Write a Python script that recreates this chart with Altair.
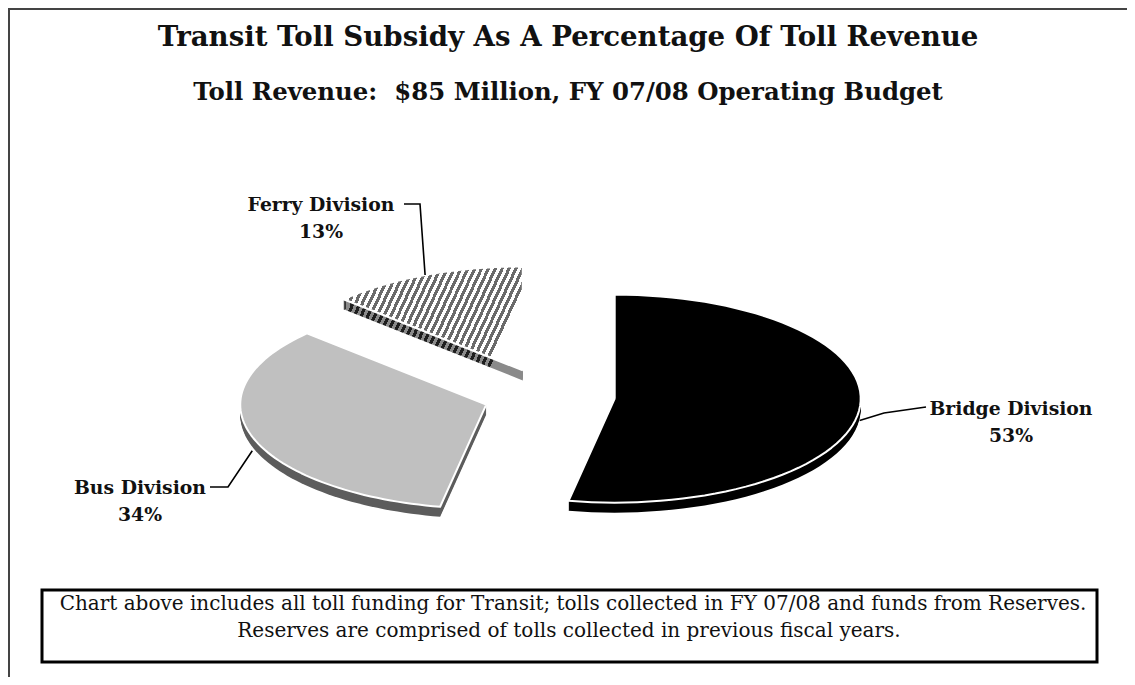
import altair as alt
import pandas as pd

# ---------------- data ----------------
categories = ["Bridge Division", "Bus Division", "Ferry Division"]
values = [53, 34, 13]

title_text = "Transit Toll Subsidy As A Percentage Of Toll Revenue"
subtitle_text = "Toll Revenue:\u00a0 $85 Million, FY 07/08 Operating Budget"
note_lines = [
    "Chart above includes all toll funding for Transit; tolls collected in FY 07/08 and funds from Reserves.",
    "Reserves are comprised of tolls collected in previous fiscal years.",
]

# ---------------- layout (page pixel units) ----------------
W, H = 1119, 669
OFF = 8
CX, CY = 549, 396          # pie centre
RA, RB = 246, 104          # ellipse radii (tilted pie)
EXPLODE = 66
DEPTH = 10
N = 72
FONT = "DejaVu Serif"

label_x = [1011, 140, 321]
label_y = [409, 488, 205]
lead_dy = [12, 14, 0]
elbow_x = [884, 228, 420]
elbow_y = [413, 487, 204]
end_x = [926, 210, 404]
end_y = [407, 487, 204]


def stripes(c1, c2, n=28, duty=0.5, gy=0.27):
    stops = []
    for k in range(n):
        s, m, e = k / n, (k + duty) / n, (k + 1) / n
        stops += [
            alt.GradientStop(offset=s, color=c1),
            alt.GradientStop(offset=m, color=c1),
            alt.GradientStop(offset=m, color=c2),
            alt.GradientStop(offset=e, color=c2),
        ]
    return alt.LinearGradient(gradient="linear", stops=stops, x1=0, y1=0, x2=1, y2=gy)


top_fill = {
    "Bridge Division": "#000000",
    "Bus Division": "#c0c0c0",
    "Ferry Division": stripes("#6a6a6a", "#ffffff"),
}
side_fill = {
    "Bridge Division": "#000000",
    "Bus Division": "#5c5c5c",
    "Ferry Division": stripes("#1e1e1e", "#8a8a8a"),
}

df = pd.DataFrame({
    "category": categories,
    "value": values,
    "lx": label_x,
    "ly": label_y,
    "sdy": lead_dy,
    "ex": elbow_x,
    "ey": elbow_y,
    "tx": end_x,
    "ty": end_y,
})

xs = alt.Scale(domain=[OFF, OFF + W], nice=False, zero=False)
ys = alt.Scale(domain=[OFF, OFF + H], nice=False, zero=False, reverse=True)

base = alt.Chart(df)

geom = (
    base.transform_window(cum="sum(value)", frame=[None, 0])
    .transform_joinaggregate(total="sum(value)")
    .transform_calculate(a0="2*PI*(datum.cum-datum.value)/datum.total")
    .transform_calculate(a1="2*PI*datum.cum/datum.total")
    .transform_calculate(am="(datum.a0+datum.a1)/2")
    .transform_calculate(ccx=f"{CX}+{EXPLODE}*sin(datum.am)")
    .transform_calculate(ccy=f"{CY}-{EXPLODE * RB / RA}*cos(datum.am)")
)

pts = (
    geom.transform_calculate(idx=f"sequence(0,{N + 2})")
    .transform_flatten(["idx"])
    .transform_calculate(isc=f"datum.idx==0 || datum.idx=={N + 1}")
    .transform_calculate(t=f"datum.a0+(datum.a1-datum.a0)*(datum.idx-1)/{N - 1}")
    .transform_calculate(px=f"datum.isc ? datum.ccx : datum.ccx+{RA}*sin(datum.t)")
    .transform_calculate(py=f"datum.isc ? datum.ccy : datum.ccy-{RB}*cos(datum.t)")
)

side = (
    pts.transform_calculate(dep=f"sequence(1,{DEPTH + 1})")
    .transform_flatten(["dep"])
    .transform_calculate(pyd="datum.py+datum.dep")
)

layers = []

# border (top and left edges)
one = pd.DataFrame({"k": [0]})
layers.append(alt.Chart(one).mark_rule(color="#444444", strokeWidth=2).encode(
    x=alt.value(0), x2=alt.value(W), y=alt.value(1)))
layers.append(alt.Chart(one).mark_rule(color="#444444", strokeWidth=2).encode(
    x=alt.value(1), y=alt.value(0), y2=alt.value(H)))

# 3D sides
for cat in categories:
    f = side_fill[cat]
    layers.append(
        side.transform_filter(alt.datum.category == cat)
        .mark_line(fill=f, strokeOpacity=0, strokeWidth=0)
        .encode(
            x=alt.X("px:Q", scale=xs, axis=None),
            y=alt.Y("pyd:Q", scale=ys, axis=None),
            order=alt.Order("idx:Q"),
            detail="dep:N",
        )
    )

# top faces
for cat in categories:
    layers.append(
        pts.transform_filter(alt.datum.category == cat)
        .mark_line(fill=top_fill[cat], stroke="white", strokeWidth=2, strokeJoin="round")
        .encode(
            x=alt.X("px:Q", scale=xs, axis=None),
            y=alt.Y("py:Q", scale=ys, axis=None),
            order=alt.Order("idx:Q"),
        )
    )

# leader lines
leaders = (
    geom.transform_calculate(k="sequence(0,3)")
    .transform_flatten(["k"])
    .transform_calculate(
        lxp=f"datum.k==0 ? datum.ccx+{RA}*sin(datum.am) : (datum.k==1 ? datum.ex : datum.tx)")
    .transform_calculate(
        lyp=f"datum.k==0 ? datum.ccy-{RB}*cos(datum.am)+datum.sdy : (datum.k==1 ? datum.ey : datum.ty)")
    .mark_line(color="black", strokeWidth=1.6)
    .encode(
        x=alt.X("lxp:Q", scale=xs, axis=None),
        y=alt.Y("lyp:Q", scale=ys, axis=None),
        order=alt.Order("k:Q"),
        detail="category:N",
    )
)
layers.append(leaders)

# slice labels
labels = (
    base.transform_calculate(lab="datum.category + '\\n' + datum.value + '%'")
    .mark_text(font=FONT, fontSize=18.8, fontWeight="bold", color="#111111",
               lineBreak="\n", lineHeight=27, align="center", baseline="middle")
    .encode(
        x=alt.X("lx:Q", scale=xs, axis=None),
        y=alt.Y("ly:Q", scale=ys, axis=None),
        text="lab:N",
    )
)
layers.append(labels)

# titles
layers.append(alt.Chart(one).mark_text(
    text=title_text, font=FONT, fontSize=27.6, fontWeight="bold", color="#111111",
    align="center", baseline="alphabetic").encode(x=alt.value(568 - OFF), y=alt.value(46 - OFF)))
layers.append(alt.Chart(one).mark_text(
    text=subtitle_text, font=FONT, fontSize=24.4, fontWeight="bold", color="#111111",
    align="center", baseline="alphabetic").encode(x=alt.value(568 - OFF), y=alt.value(100 - OFF)))

# note box
layers.append(alt.Chart(one).mark_rect(fill="white", stroke="black", strokeWidth=3).encode(
    x=alt.value(42 - OFF), x2=alt.value(1097 - OFF), y=alt.value(590 - OFF), y2=alt.value(662 - OFF)))
layers.append(alt.Chart(one).mark_text(
    text=note_lines[0], font=FONT, fontSize=20, color="#111111",
    align="center", baseline="alphabetic").encode(x=alt.value(573 - OFF), y=alt.value(610 - OFF)))
layers.append(alt.Chart(one).mark_text(
    text=note_lines[1], font=FONT, fontSize=20, color="#111111",
    align="center", baseline="alphabetic").encode(x=alt.value(569 - OFF), y=alt.value(637 - OFF)))

chart = (
    alt.layer(*layers)
    .properties(width=W, height=H, padding=0, autosize=alt.AutoSizeParams(type="none"))
    .configure_view(stroke="transparent")
)

chart.save("out.html", embed_options={"renderer": "svg", "actions": False})
